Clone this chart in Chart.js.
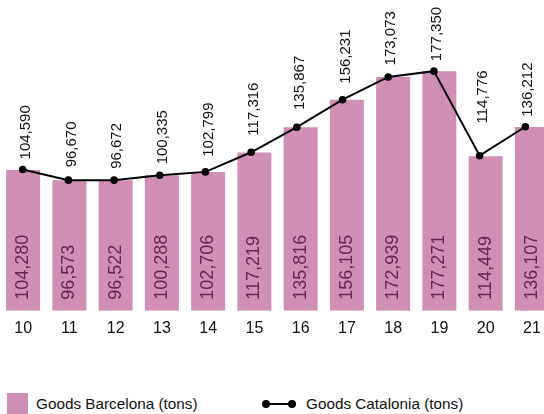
<!DOCTYPE html>
<html>
<head>
<meta charset="utf-8">
<script src="https://cdn.jsdelivr.net/npm/chart.js@4.4.1/dist/chart.umd.min.js"></script>
<style>
  html, body { margin: 0; padding: 0; background: #fff; overflow: hidden; width: 544px; height: 414px; }
  #wrap { position: relative; width: 544px; height: 414px; overflow: hidden; }
  #goodsChart { position: absolute; left: 0; top: 0; }
  .leyenda { position: absolute; top: 393px; height: 21px; font-family: "Liberation Sans", Arial, sans-serif; font-size: 15.3px; color: #111; line-height: 21px; white-space: nowrap; }
  .caja { position: absolute; left: 7px; top: 393px; width: 21px; height: 21px; background: #d18fb5; }
  .linea { position: absolute; left: 266px; top: 403px; width: 26px; height: 2px; background: #000; }
  .punto { position: absolute; top: 400px; width: 8px; height: 8px; border-radius: 50%; background: #000; }
</style>
</head>
<body>
<div id="wrap">
  <canvas id="goodsChart" width="555" height="346"></canvas>
  <div class="caja"></div>
  <div class="leyenda" style="left:36px;">Goods Barcelona (tons)</div>
  <div class="linea"></div>
  <div class="punto" style="left:262px;"></div>
  <div class="punto" style="left:288px;"></div>
  <div class="leyenda" style="left:306px;">Goods Catalonia (tons)</div>
</div>
<script>
const categorias = ["10", "11", "12", "13", "14", "15", "16", "17", "18", "19", "20", "21"];
const barcelona = [104280, 96573, 96522, 100288, 102706, 117219, 135816, 156105, 172939, 177271, 114449, 136107];
const catalonia = [104590, 96670, 96672, 100335, 102799, 117316, 135867, 156231, 173073, 177350, 114776, 136212];

const colorBarra = '#d18fb5';
const colorTextoBarra = '#6a2350';

function fmt(v) {
    return v.toLocaleString('en-US');
}

// etiquetas giradas: dentro de las barras y encima de los puntos
const etiquetas = {
    id: 'etiquetas',
    afterDatasetsDraw(chart) {
        const ctx = chart.ctx;
        const base = chart.scales.y.getPixelForValue(0);

        // barras
        const barras = chart.getDatasetMeta(0).data;
        ctx.save();
        ctx.fillStyle = colorTextoBarra;
        ctx.font = '18px "Liberation Sans", Arial, sans-serif';
        ctx.textAlign = 'left';
        ctx.textBaseline = 'middle';
        barras.forEach((b, i) => {
            ctx.save();
            ctx.translate(b.x, base - 11);
            ctx.rotate(-Math.PI / 2);
            ctx.fillText(fmt(barcelona[i]), 0, 0);
            ctx.restore();
        });
        ctx.restore();

        // linea
        const pts = chart.getDatasetMeta(1).data;
        ctx.save();
        ctx.fillStyle = '#111';
        ctx.font = '15px "Liberation Sans", Arial, sans-serif';
        ctx.textAlign = 'left';
        ctx.textBaseline = 'middle';
        const alturaEn = (x) => {
            for (let k = 0; k < pts.length - 1; k++) {
                const a = pts[k], c = pts[k + 1];
                if (x >= a.x && x <= c.x) {
                    return a.y + (c.y - a.y) * (x - a.x) / (c.x - a.x);
                }
            }
            return null;
        };
        pts.forEach((p, i) => {
            let arriba = p.y;
            [-12, 12].forEach(dx => {
                const h = alturaEn(p.x + dx);
                if (h !== null && h < arriba) arriba = h;
            });
            ctx.save();
            ctx.translate(p.x + 3, arriba - 10);
            ctx.rotate(-Math.PI / 2);
            ctx.fillText(fmt(catalonia[i]), 0, 0);
            ctx.restore();
        });
        ctx.restore();
    }
};

const ctx = document.getElementById('goodsChart').getContext('2d');
const chart = new Chart(ctx, {
    type: 'bar',
    data: {
        labels: categorias,
        datasets: [{
            label: 'Goods Barcelona (tons)',
            data: barcelona,
            backgroundColor: colorBarra,
            borderWidth: 0,
            grouped: false,
            barPercentage: 0.735,
            categoryPercentage: 1,
            xAxisID: 'x',
            order: 2
        }, {
            type: 'line',
            label: 'Goods Catalonia (tons)',
            data: catalonia.map((v, i) => ({ x: Number(categorias[i]), y: v })),
            borderColor: '#000',
            backgroundColor: '#000',
            borderWidth: 2,
            pointRadius: 3.8,
            pointBackgroundColor: '#000',
            pointBorderWidth: 0,
            tension: 0,
            clip: false,
            xAxisID: 'x2',
            order: 1
        }]
    },
    options: {
        responsive: false,
        animation: false,
        layout: { padding: 0, autoPadding: false },
        plugins: {
            legend: { display: false },
            tooltip: { enabled: false }
        },
        scales: {
            x: {
                grid: { display: false, drawTicks: false },
                border: { display: false },
                ticks: {
                    color: '#111',
                    padding: 8,
                    font: { size: 16, family: '"Liberation Sans", Arial, sans-serif' }
                }
            },
            x2: {
                type: 'linear',
                display: false,
                offset: false,
                grid: { offset: false },
                min: 9.503,
                max: 21.65
            },
            y: {
                display: false,
                min: 0,
                max: 230000
            }
        }
    },
    plugins: [etiquetas]
});
</script>
</body>
</html>
